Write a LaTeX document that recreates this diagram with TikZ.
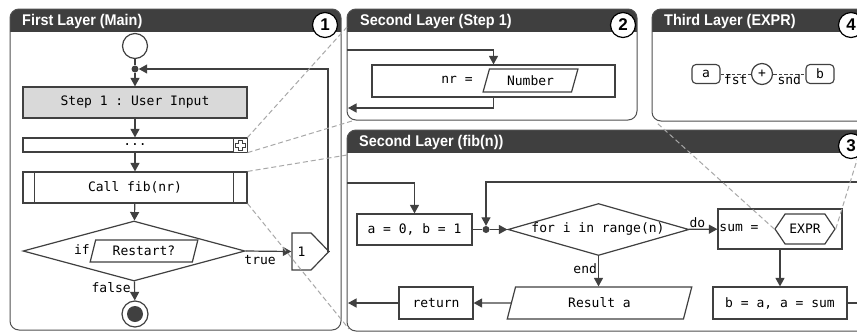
\documentclass[tikz,border=0pt]{standalone}
\usepackage{fontspec}
\setmonofont{DejaVu Sans Mono}
\newfontfamily\titlefont{Liberation Sans}[FakeStretch=0.93]
\newfontfamily\numfont{Liberation Sans}
\usetikzlibrary{arrows.meta,shapes.geometric,shapes.symbols}
\definecolor{ink}{HTML}{404040}
\definecolor{bar}{HTML}{3F3F3F}
\definecolor{stepfill}{HTML}{D9D9D9}
\definecolor{guide}{HTML}{A8A8A8}
\definecolor{frame}{HTML}{505050}

\tikzset{
  mono/.style={font={\ttfamily\fontsize{13}{15}\selectfont}, text=black},
  monotext/.style={mono, inner sep=1pt},
  procbox/.style={mono, draw=ink, line width=1.2pt, fill=white, rectangle, inner sep=0pt},
  para/.style={mono, draw=ink, line width=1.2pt, fill=white, trapezium,
    trapezium left angle=70, trapezium right angle=110, trapezium stretches=true, inner sep=0pt},
  leaf/.style={mono, draw=ink, line width=1.1pt, rounded corners=4pt, minimum width=28pt,
    minimum height=19pt, inner sep=0pt},
  ring/.style={draw=ink, line width=1.2pt, circle, fill=white, inner sep=0pt},
  joint/.style={circle, fill=ink, inner sep=0pt, minimum size=7pt},
  flow/.style={draw=ink, line width=1.2pt},
  tip/.tip={Triangle[length=8.5pt,width=9pt]},
  guideline/.style={draw=guide, line width=1pt, dash pattern=on 5pt off 3pt},
  paneledge/.style={draw=frame, line width=1pt, rounded corners=9pt},
  paneltitle/.style={font={\titlefont\bfseries\fontsize{15.5}{18}\selectfont}, text=white,
    anchor=west, inner sep=0pt},
  panelnum/.style={circle, draw=black, line width=1.2pt, fill=white, minimum size=25pt,
    inner sep=0pt, font={\numfont\bfseries\fontsize{17}{20}\selectfont}},
}

\begin{document}
\begin{tikzpicture}[x=1pt, y=-1pt]
\useasboundingbox (0,0) rectangle (857,333);

% ---------- panels: frame and dark title bar ----------
\foreach \xa/\ya/\xb/\yb/\yt in {10/9/341/330/32, 347/9/637/120/32, 652/9/868/121/32, 347/130/868/331/153} {
  \path[fill=white, rounded corners=9pt] (\xa,\ya) rectangle (\xb,\yb);
  \begin{scope}
    \clip[rounded corners=9pt] (\xa,\ya) rectangle (\xb,\yb);
    \fill[bar] (\xa,\ya) rectangle (\xb,\yt);
  \end{scope}
  \draw[paneledge] (\xa,\ya) rectangle (\xb,\yb);
}
\node[paneltitle] (t1) at (22,21) {First Layer (Main)};
\node[paneltitle] (t2) at (360,21) {Second Layer (Step 1)};
\node[paneltitle] (t4) at (664,21) {Third Layer (EXPR)};
\node[paneltitle] (t3) at (359,142) {Second Layer (fib(n))};
\node[panelnum] (n1) at (325,25) {1};
\node[panelnum] (n2) at (623,25) {2};
\node[panelnum] (n4) at (851,25) {4};
\node[panelnum] (n3) at (851,146) {3};

% ---------- first layer: main program ----------
\node[ring, minimum size=25pt] (start) at (135,46) {};
\node[joint] (j1) at (135,69) {};
\node[procbox, fill=stepfill, minimum width=224pt, minimum height=31pt] (s1) at (135,102.5) {Step 1 : User Input};
\node[procbox, minimum width=224pt, minimum height=14pt] (dots) at (135,145) {...};
\node[draw=ink, line width=0.9pt, fill=white, minimum size=14pt, inner sep=0pt] (expand) at (240,145) {};
\draw[ink, line width=0.8pt] ([shift={(-2,-5)}]expand.center) -- ++(4,0) -- ++(0,3) -- ++(3,0) -- ++(0,4)
  -- ++(-3,0) -- ++(0,3) -- ++(-4,0) -- ++(0,-3) -- ++(-3,0) -- ++(0,-4) -- ++(3,0) -- cycle;
\node[procbox, minimum width=224pt, minimum height=31pt] (call) at (135,187.5) {Call fib(nr)};
\draw[ink, line width=1.2pt] ([xshift=12pt]call.north west) -- ([xshift=12pt]call.south west);
\draw[ink, line width=1.2pt] ([xshift=-14pt]call.north east) -- ([xshift=-14pt]call.south east);
\node[diamond, draw=ink, line width=1.2pt, fill=white, minimum width=222pt, minimum height=60pt, inner sep=0pt] (cond) at (134,251) {};
\node[monotext] (iflab) at (82,250) {if};
\node[para, minimum width=108pt, minimum height=22pt] (restart) at (144,251) {Restart?};
\node[signal, signal to=east, signal pointer angle=92, draw=ink, line width=1.2pt, fill=white,
  minimum width=37pt, minimum height=37pt, inner sep=0pt, mono] (sig1) at (301.5,251.5) {1};
\node[ring, minimum size=26pt] (stop) at (135,314) {};
\node[joint, minimum size=16pt] (stopdot) at (stop) {};
\node[monotext, anchor=north east] (truelab) at (277,254) {true};
\node[monotext, anchor=east] (falselab) at (132,288) {false};
\coordinate (back1) at (328,69);

\draw[flow] (start) -- (j1);
\draw[flow, -tip] (j1) -- (s1);
\draw[flow, -tip] (s1) -- (dots);
\draw[flow, -tip] (dots) -- (call);
\draw[flow, -tip] (call) -- (cond);
\draw[flow, -tip] (cond.east) -- (sig1.west);
\draw[flow, -tip] (cond) -- (stop);
\draw[flow, -tip] (sig1.east) -| (back1) -- (j1);

% ---------- second layer: step 1 ----------
\coordinate (in2) at (347,50);
\coordinate (out2) at (348,108);
\node[procbox, minimum width=243pt, minimum height=32pt] (assign) at (493.5,81) {};
\node[monotext] (nrlab) at (457,80) {nr =};
\node[para, minimum width=95pt, minimum height=23pt] (numb) at (530.5,80.5) {Number};
\draw[flow, -tip] (in2) -| (assign);
\draw[flow, -tip] (assign) |- (out2);

% ---------- third layer: expression ----------
\node[leaf] (ea) at (706,74) {a};
\node[ring, mono, minimum size=21pt] (plus) at (762,74) {+};
\node[leaf] (eb) at (820,74) {b};
\draw[ink, line width=1pt, dash pattern=on 3.5pt off 2pt] (ea) -- node[monotext, below, yshift=1pt] (fst) {fst} (plus);
\draw[ink, line width=1pt, dash pattern=on 3.5pt off 2pt] (plus) -- node[monotext, below, yshift=1pt] (snd) {snd} (eb);

% ---------- second layer: fib(n) ----------
\coordinate (in3) at (347,183);
\coordinate (out3) at (348,303);
\coordinate (far3) at (862,182);
\node[procbox, minimum width=115pt, minimum height=31pt] (init) at (414.5,229.5) {a = 0, b = 1};
\node[joint] (j3) at (486,229.5) {};
\node[diamond, draw=ink, line width=1.2pt, fill=white, minimum width=181pt, minimum height=52pt, inner sep=0pt] (loop) at (598.5,229.5) {};
\node[monotext] (looptxt) at (598,229) {for i in range(n)};
\node[procbox, minimum width=124pt, minimum height=40pt] (sumbox) at (780,229) {};
\node[monotext] (sumlab) at (739,228) {sum =};
\node[signal, signal to=west and east, signal pointer angle=112, draw=ink, line width=1.2pt, fill=white,
  minimum width=60pt, minimum height=30pt, inner sep=0pt, mono] (expr) at (805,229) {EXPR};
\node[procbox, minimum width=134pt, minimum height=32pt] (swap) at (780,303) {b = a, a = sum};
\node[para, minimum width=185pt, minimum height=32pt, trapezium left angle=73, trapezium right angle=107] (result) at (599.5,303) {Result a};
\node[procbox, minimum width=74pt, minimum height=32pt] (ret) at (436,303) {return};

\draw[flow, -tip] (in3) -| (init);
\draw[flow] (init) -- (j3);
\draw[flow, -tip] (j3) -- (loop);
\draw[flow, -tip] (loop) -- node[monotext, above, pos=0.3] (dolab) {do} (sumbox);
\draw[flow, -tip] (sumbox) -- (swap);
\draw[flow, -tip] (loop.south) -- node[monotext, left, pos=0.4] (endlab) {end} (loop.south |- result.north);
\draw[flow, -tip] (result) -- (ret);
\draw[flow, -tip] (ret) -- (out3);
\draw[flow, -tip] (swap.east) -| (far3) -| (j3);

% ---------- guides from a step to its expanded layer ----------
\coordinate (g1) at (347,27);
\coordinate (g2) at (352,121);
\coordinate (g3) at (347,155);
\coordinate (g4) at (349,329);
\coordinate (g5) at (657,123);
\coordinate (g6) at (869,121);
\draw[guideline] (expand.north east) -- (g1);
\draw[guideline] (dots.south east) -- (g2);
\draw[guideline] (call.north east) -- (g3);
\draw[guideline] (call.south east) -- (g4);
\draw[guideline] (expr.west) -- (g5);
\draw[guideline] (expr.east) -- (g6);
\end{tikzpicture}
\end{document}
